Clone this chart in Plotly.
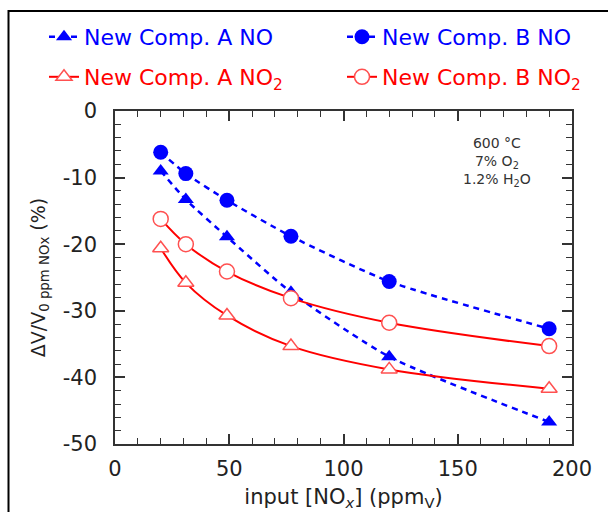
import plotly.graph_objects as go

# NOx input concentration (ppmV)
nox_input = [20, 31, 49, 77, 120, 190]

# Relative sensor response ΔV/V0 (%) for each composition / gas
comp_a_no = [-9.0, -13.3, -18.9, -27.2, -36.9, -46.7]
comp_b_no = [-6.2, -9.4, -13.4, -18.8, -25.6, -32.7]
comp_a_no2 = [-20.6, -25.8, -30.7, -35.3, -38.8, -41.7]
comp_b_no2 = [-16.2, -20.0, -24.1, -28.1, -31.8, -35.3]

series_names = [
    "New Comp. A NO",
    "New Comp. B NO",
    "New Comp. A NO<sub>2</sub>",
    "New Comp. B NO<sub>2</sub>",
]

y_tick_vals = [0, -10, -20, -30, -40, -50]
y_tick_text = ["0", "-10", "-20", "-30", "-40", "-50"]

BLUE = "#0000ff"
RED = "#ff0000"
LIGHT_RED = "#ff5050"
FONT = "DejaVu Sans"

fig = go.Figure()

fig.add_trace(go.Scatter(
    x=nox_input, y=comp_a_no, name=series_names[0], mode="lines+markers",
    line=dict(color=BLUE, width=2.5, dash="6px,5px", shape="spline", smoothing=0.6),
    marker=dict(symbol="triangle-up", size=14, color=BLUE),
    legend="legend",
))
fig.add_trace(go.Scatter(
    x=nox_input, y=comp_b_no, name=series_names[1], mode="lines+markers",
    line=dict(color=BLUE, width=2.5, dash="6px,5px", shape="spline", smoothing=0.6),
    marker=dict(symbol="circle", size=15, color=BLUE),
    legend="legend2",
))
fig.add_trace(go.Scatter(
    x=nox_input, y=comp_a_no2, name=series_names[2], mode="lines+markers",
    line=dict(color=RED, width=2, shape="spline", smoothing=1.0),
    marker=dict(symbol="triangle-up", size=14, color="white",
                line=dict(color=LIGHT_RED, width=1.5)),
    legend="legend3",
))
fig.add_trace(go.Scatter(
    x=nox_input, y=comp_b_no2, name=series_names[3], mode="lines+markers",
    line=dict(color=RED, width=2, shape="spline", smoothing=1.0),
    marker=dict(symbol="circle", size=15, color="white",
                line=dict(color=LIGHT_RED, width=1.5)),
    legend="legend4",
))

L, R, T, B = 115, 36, 111, 68
W, H = 608, 512
pw, ph = W - L - R, H - T - B


def px_x(p):
    return (p - L) / pw


def px_y(p):
    return (H - B - p) / ph


def legend_box(x_px, y_px, color):
    return dict(
        x=px_x(x_px), y=px_y(y_px), xanchor="left", yanchor="middle",
        orientation="h", bgcolor="rgba(0,0,0,0)",
        font=dict(family=FONT, size=22, color=color),
        itemwidth=30,
    )


axis_common = dict(
    showline=True, linecolor="#333333", linewidth=1.5, mirror="ticks",
    ticks="inside", ticklen=10, tickwidth=1.5, tickcolor="#333333",
    showgrid=False, zeroline=False, automargin=False,
    tickfont=dict(family=FONT, size=21, color="#222222"),
)

fig.update_layout(
    width=W, height=H,
    margin=dict(l=L, r=R, t=T, b=B),
    paper_bgcolor="white", plot_bgcolor="white",
    font=dict(family=FONT, color="#222222"),
    showlegend=True,
    legend=legend_box(44, 37, BLUE),
    legend2=legend_box(342, 37, BLUE),
    legend3=legend_box(44, 77, RED),
    legend4=legend_box(342, 77, RED),
    xaxis=dict(
        range=[0, 200], tickvals=[0, 50, 100, 150, 200],
        minor=dict(dtick=10, ticks="inside", ticklen=6, tickwidth=1.2, tickcolor="#333333"),
        ticklabelstandoff=5,
        title=dict(text="input [NO<sub><i>x</i></sub>] (ppm<sub>V</sub>)",
                   font=dict(family=FONT, size=21, color="#222222"), standoff=9),
        **axis_common,
    ),
    yaxis=dict(
        range=[-50, 0], tickvals=y_tick_vals, ticktext=y_tick_text,
        minor=dict(dtick=2, ticks="inside", ticklen=6, tickwidth=1.2, tickcolor="#333333"),
        ticklabelstandoff=12,
        title=dict(text="ΔV/V<sub>0 ppm NOx</sub> (%)",
                   font=dict(family=FONT, size=19, color="#222222"), standoff=12),
        **axis_common,
    ),
    annotations=[dict(
        x=167, y=-7.6, xref="x", yref="y", showarrow=False,
        text="600 °C<br>7% O<sub>2</sub><br>1.2% H<sub>2</sub>O",
        font=dict(family=FONT, size=14, color="#333333"), align="center",
    )],
    shapes=[dict(
        type="rect", xref="paper", yref="paper",
        x0=px_x(8.5), x1=px_x(700), y0=px_y(600), y1=px_y(11),
        line=dict(color="black", width=2), fillcolor="rgba(0,0,0,0)", layer="below",
    )],
)

fig.write_html("out.html")
